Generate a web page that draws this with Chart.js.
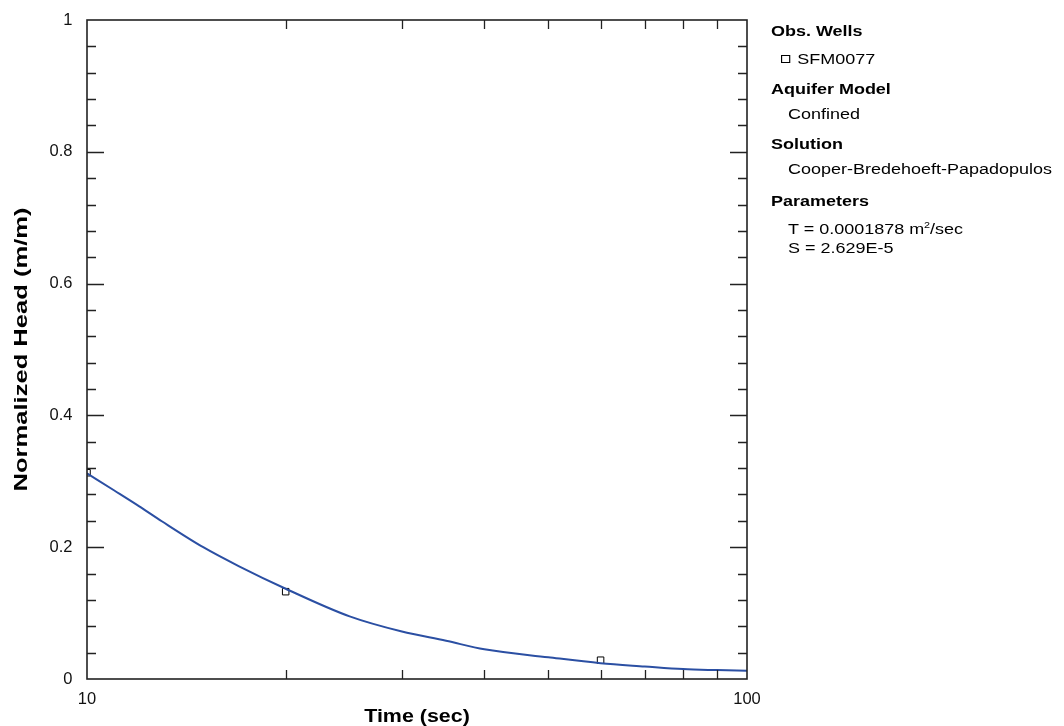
<!DOCTYPE html>
<html>
<head>
<meta charset="utf-8">
<script src="https://cdn.jsdelivr.net/npm/chart.js@4.4.1/dist/chart.umd.min.js"></script>
<style>
  html, body { margin: 0; padding: 0; background: #fff; }
  #wrap { position: relative; width: 1064px; height: 726px; font-family: "Liberation Sans", Arial, sans-serif; }
  #plot { position: absolute; left: 0; top: 0; }
  .info { position: absolute; left: 0; top: 0; width: 1064px; height: 726px; pointer-events: none; }
  .ln { position: absolute; white-space: nowrap; font-size: 15.5px; line-height: 20px; color: #000;
        transform: scaleX(1.16); transform-origin: left center; }
  .hd { font-weight: bold; }
  .mk { display: inline-block; width: 6px; height: 6px; border: 1px solid #000; margin-right: 6px;
        vertical-align: 1px; }
  sup { font-size: 0.6em; line-height: 0; vertical-align: 0.6em; }
</style>
</head>
<body>
<div id="wrap">
  <canvas id="plot" width="1064" height="726"></canvas>
  <div class="info" id="info"></div>
</div>
<script>
// Fitted type-curve (Cooper-Bredehoeft-Papadopulos), time in seconds
const fitTime = [10, 11, 12, 13, 15, 17, 20, 25, 30, 35, 40, 50, 60, 70, 80, 90, 100];
const fitHead = [0.312, 0.286, 0.262, 0.239, 0.200, 0.171, 0.137, 0.095, 0.072, 0.058, 0.045, 0.033, 0.024, 0.019, 0.015, 0.0135, 0.0125];

// Observed normalized head at well SFM0077
const obsTime = [10, 20, 60];
const obsHead = [0.313, 0.1325, 0.0285];

// Labelled ticks
const xTickLabels = [10, 100];
const yTickLabels = [0, 0.2, 0.4, 0.6, 0.8, 1];

// Axis titles
const xTitle = 'Time (sec)';
const yTitle = 'Normalized Head (m/m)';

// Side panel text
const panelLines = [
  { text: 'Obs. Wells', bold: true },
  { text: 'SFM0077', marker: true },
  { text: 'Aquifer Model', bold: true },
  { text: 'Confined' },
  { text: 'Solution', bold: true },
  { text: 'Cooper-Bredehoeft-Papadopulos' },
  { text: 'Parameters', bold: true },
  { text: 'T = 0.0001878 m<sup>2</sup>/sec' },
  { text: 'S = 2.629E-5' }
];
const panelY = [31, 59, 89, 114, 144, 169, 201, 229, 248];

const info = document.getElementById('info');
panelLines.forEach((l, i) => {
  const d = document.createElement('div');
  d.className = 'ln' + (l.bold ? ' hd' : '');
  d.style.top = (panelY[i] - 10) + 'px';
  d.style.left = l.bold ? '771px' : (l.marker ? '781px' : '788px');
  d.innerHTML = (l.marker ? '<span class="mk"></span>' : '') + l.text;
  info.appendChild(d);
});

const FONT = '"Liberation Sans", Arial, sans-serif';

// Frame with inward ticks on all four sides, plus the wide-set axis titles
const framePlugin = {
  id: 'frame',
  afterDatasetsDraw(chart) {
    const { ctx, chartArea: a } = chart;
    const xs = chart.scales.x, ys = chart.scales.y;
    ctx.save();
    ctx.strokeStyle = '#222';
    ctx.lineWidth = 1.3;
    ctx.beginPath();
    // y ticks: minor every 0.04, major every 0.2
    for (let k = 1; k < 25; k++) {
      const v = k * 0.04;
      const y = Math.round(ys.getPixelForValue(v)) + 0.5;
      const len = (k % 5 === 0) ? 17 : 9;
      ctx.moveTo(a.left, y); ctx.lineTo(a.left + len, y);
      ctx.moveTo(a.right, y); ctx.lineTo(a.right - len, y);
    }
    // x ticks: log minor ticks 20..90
    for (let t = 20; t < 100; t += 10) {
      const x = Math.round(xs.getPixelForValue(t)) + 0.5;
      ctx.moveTo(x, a.bottom); ctx.lineTo(x, a.bottom - 9);
      ctx.moveTo(x, a.top); ctx.lineTo(x, a.top + 9);
    }
    ctx.stroke();
    ctx.lineWidth = 1.6;
    ctx.strokeRect(a.left, a.top, a.right - a.left, a.bottom - a.top);
    ctx.restore();
  },
  afterDraw(chart) {
    const { ctx, chartArea: a } = chart;
    ctx.save();
    ctx.fillStyle = '#000';
    ctx.font = 'bold 18px ' + FONT;
    ctx.textAlign = 'center';
    ctx.textBaseline = 'middle';
    // x title
    ctx.save();
    ctx.translate((a.left + a.right) / 2, 717);
    ctx.scale(1.19, 1);
    ctx.fillText(xTitle, 0, 0);
    ctx.restore();
    // y title
    ctx.save();
    ctx.translate(22, (a.top + a.bottom) / 2);
    ctx.rotate(-Math.PI / 2);
    ctx.scale(1.42, 1.05);
    ctx.fillText(yTitle, 0, 0);
    ctx.restore();
    ctx.restore();
  }
};

new Chart(document.getElementById('plot'), {
  type: 'scatter',
  data: {
    datasets: [
      {
        label: 'fit',
        data: fitTime.map((t, i) => ({ x: t, y: fitHead[i] })),
        showLine: true,
        borderColor: '#2b4fa3',
        borderWidth: 2,
        pointRadius: 0,
        cubicInterpolationMode: 'monotone'
      },
      {
        label: 'SFM0077',
        data: obsTime.map((t, i) => ({ x: t, y: obsHead[i] })),
        showLine: false,
        pointStyle: 'rect',
        pointRadius: 4.6,
        backgroundColor: '#fff',
        borderColor: '#000',
        borderWidth: 1
      }
    ]
  },
  options: {
    responsive: false,
    devicePixelRatio: 1,
    animation: false,
    layout: { padding: { top: 20, right: 317, left: 0, bottom: 0 } },
    plugins: { legend: { display: false }, tooltip: { enabled: false } },
    scales: {
      x: {
        type: 'logarithmic',
        min: 10, max: 100,
        afterFit(s) { s.height = 47; s.paddingLeft = 0; s.paddingRight = 0; },
        grid: { display: false, tickLength: 0 },
        border: { display: false },
        ticks: {
          autoSkip: false, maxRotation: 0, padding: 11,
          color: '#111',
          font: { family: FONT, size: 16.5 },
          callback: v => xTickLabels.includes(v) ? String(v) : ''
        }
      },
      y: {
        min: 0, max: 1,
        afterFit(s) { s.width = 87; s.paddingTop = 0; s.paddingBottom = 0; },
        afterBuildTicks(s) { s.ticks = yTickLabels.map(v => ({ value: v })); },
        grid: { display: false, tickLength: 0 },
        border: { display: false },
        ticks: {
          padding: 14.5,
          color: '#111',
          font: { family: FONT, size: 16.5 },
          callback: v => String(Number(v.toFixed(2)))
        }
      }
    }
  },
  plugins: [framePlugin]
});
</script>
</body>
</html>
